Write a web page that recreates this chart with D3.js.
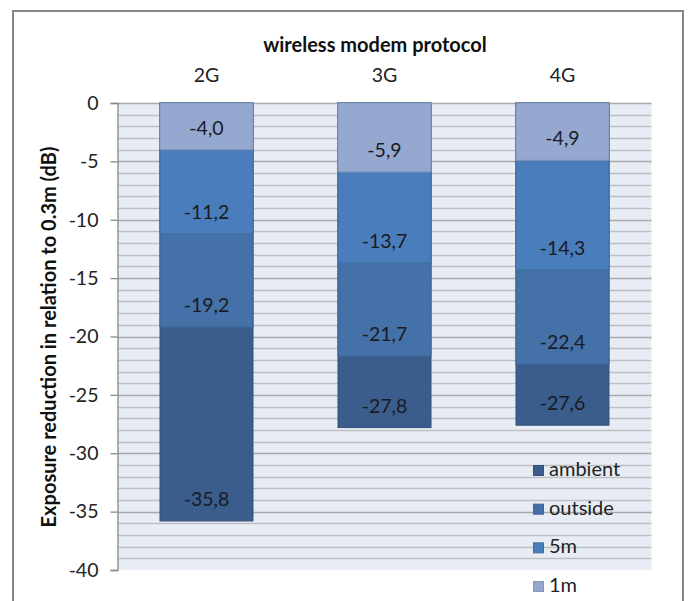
<!DOCTYPE html>
<html>
<head>
<meta charset="utf-8">
<script src="https://cdn.jsdelivr.net/npm/d3@7"></script>
<style>
  html, body { margin: 0; padding: 0; background: #fff; }
  svg { display: block; font-family: Lato, "Open Sans", sans-serif; }
</style>
</head>
<body>
<svg id="chart" width="689" height="601"></svg>
<script>
// Categories (wireless modem protocol) and measured exposure reduction per distance
const categories = ["2G", "3G", "4G"];
const seriesNames = ["1m", "5m", "outside", "ambient"];
const values1m = [-4.0, -5.9, -4.9];
const values5m = [-11.2, -13.7, -14.3];
const valuesOutside = [-19.2, -21.7, -22.4];
const valuesAmbient = [-35.8, -27.8, -27.6];
const yTickValues = [0, -5, -10, -15, -20, -25, -30, -35, -40];

const seriesColors = {
  "1m": "#95a9d0",
  "5m": "#4a7dbb",
  "outside": "#4471a7",
  "ambient": "#3a5d8b"
};
const seriesValues = {
  "1m": values1m,
  "5m": values5m,
  "outside": valuesOutside,
  "ambient": valuesAmbient
};

const svg = d3.select("#chart");

// chart frame
svg.append("rect")
  .attr("x", 13).attr("y", 11)
  .attr("width", 670).attr("height", 620)
  .attr("fill", "#fff")
  .attr("stroke", "#878787")
  .attr("stroke-width", 2);

const plot = { left: 117.5, right: 651.5, top: 103, bottom: 570 };

const x = d3.scaleBand()
  .domain(categories)
  .range([plot.left, plot.right])
  .paddingInner(0.4775)
  .paddingOuter(0.2388);

const y = d3.scaleLinear()
  .domain([-40, 0])
  .range([plot.bottom, plot.top]);

// plot background
svg.append("rect")
  .attr("x", plot.left).attr("y", plot.top)
  .attr("width", plot.right - plot.left)
  .attr("height", plot.bottom - plot.top)
  .attr("fill", "#e8edf5");

// gridlines every 1 dB
svg.append("g")
  .selectAll("line")
  .data(d3.range(-39, 1))
  .join("line")
  .attr("x1", plot.left).attr("x2", plot.right)
  .attr("y1", d => Math.round(y(d)) + 0.5)
  .attr("y2", d => Math.round(y(d)) + 0.5)
  .attr("stroke", d => d % 5 === 0 ? "#a9a9a9" : "#bdbfc3")
  .attr("stroke-width", 1.3);

// y axis
const yAxis = d3.axisLeft(y)
  .tickValues(yTickValues)
  .tickSize(7)
  .tickPadding(12)
  .tickFormat(d => String(d));

const gy = svg.append("g")
  .attr("transform", `translate(${plot.left},0)`)
  .call(yAxis);
gy.select(".domain").attr("stroke", "#888").attr("stroke-width", 1.3);
gy.selectAll(".tick line").attr("stroke", "#888").attr("stroke-width", 1.3);
gy.selectAll(".tick text")
  .attr("fill", "#222")
  .style("font-size", "19.5px")
  .style("font-family", "Lato, 'Open Sans', sans-serif");

// category labels on top
svg.append("g")
  .selectAll("text")
  .data(categories)
  .join("text")
  .attr("x", d => x(d) + x.bandwidth() / 2)
  .attr("y", 77)
  .attr("text-anchor", "middle")
  .attr("dominant-baseline", "middle")
  .attr("fill", "#222")
  .style("font-size", "19.5px")
  .text(d => d);

// axis titles
svg.append("text")
  .attr("x", 375).attr("y", 47)
  .attr("text-anchor", "middle")
  .attr("dominant-baseline", "middle")
  .attr("fill", "#111")
  .style("font-size", "20px")
  .style("font-weight", "bold")
  .text("wireless modem protocol");

svg.append("text")
  .attr("transform", "translate(51,337) rotate(-90)")
  .attr("text-anchor", "middle")
  .attr("dominant-baseline", "middle")
  .attr("fill", "#111")
  .style("font-size", "20px")
  .style("font-weight", "bold")
  .text("Exposure reduction in relation to 0.3m (dB)");

// overlapping bars, deepest series drawn first
const drawOrder = ["ambient", "outside", "5m", "1m"];
const fmt = v => v.toFixed(1).replace(".", ",");

drawOrder.forEach(name => {
  const vals = seriesValues[name];
  const g = svg.append("g");
  g.selectAll("rect")
    .data(categories)
    .join("rect")
    .attr("x", d => x(d))
    .attr("y", y(0))
    .attr("width", x.bandwidth())
    .attr("height", (d, i) => y(vals[i]) - y(0))
    .attr("fill", seriesColors[name])
    .attr("stroke", d3.color(seriesColors[name]).darker(0.35))
    .attr("stroke-width", 1);
});

// data labels at the inside end of each bar
drawOrder.forEach(name => {
  const vals = seriesValues[name];
  svg.append("g")
    .selectAll("text")
    .data(categories)
    .join("text")
    .attr("x", d => x(d) + x.bandwidth() / 2)
    .attr("y", (d, i) => y(vals[i]) - 20)
    .attr("text-anchor", "middle")
    .attr("dominant-baseline", "middle")
    .attr("fill", "#1a1a24")
    .style("font-size", "19.5px")
    .text((d, i) => fmt(vals[i]));
});

// legend, listed from ambient down to 1m
const legend = svg.append("g");
const legendOrder = ["ambient", "outside", "5m", "1m"];
const legendY = d3.scalePoint().domain(legendOrder).range([471, 587]);
legendOrder.forEach(name => {
  const cy = legendY(name);
  legend.append("rect")
    .attr("x", 533.5).attr("y", cy - 5.5)
    .attr("width", 10).attr("height", 10)
    .attr("fill", seriesColors[name])
    .attr("stroke", d3.color(seriesColors[name]).darker(0.35))
    .attr("stroke-width", 1);
  legend.append("text")
    .attr("x", 549).attr("y", cy)
    .attr("dominant-baseline", "middle")
    .attr("fill", "#222")
    .style("font-size", "20px")
    .text(name);
});
</script>
</body>
</html>
